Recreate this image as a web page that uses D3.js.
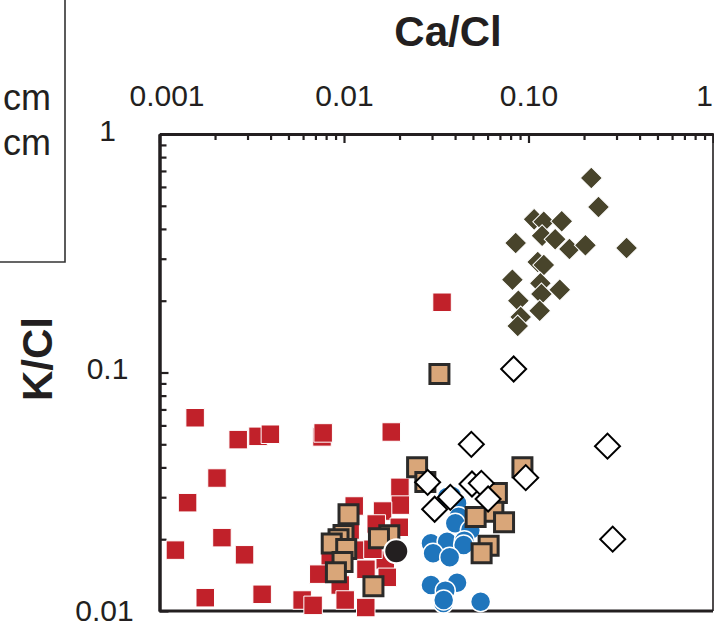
<!DOCTYPE html>
<html><head><meta charset="utf-8">
<script src="https://cdn.jsdelivr.net/npm/d3@7"></script>
<style>
body{margin:0;background:#fff}
svg{display:block}
text{font-family:"Liberation Sans",Arial,Helvetica,sans-serif;fill:#231f20}
</style>
</head><body>
<svg id="chart" width="714" height="628"></svg>
<script>
// ---- data (Ca/Cl, K/Cl) ----
const xTickValues = [0.001, 0.01, 0.1, 1];
const xTickLabels = ["0.001", "0.01", "0.10", "1"];
const yTickValues = [0.01, 0.1, 1];
const yTickLabels = ["0.01", "0.1", "1"];
const legendTexts = ["cm", "cm"];

const redSquares = [
  [0.00156,0.0646],[0.00267,0.0523],[0.00342,0.0540],[0.00399,0.0551],
  [0.0076,0.0537],[0.00771,0.0558],[0.00205,0.0361],[0.00142,0.02845],
  [0.00218,0.0203],[0.00122,0.0180],[0.00289,0.0172],[0.00177,0.01137],
  [0.0036,0.01175],[0.01804,0.0563],[0.034,0.197],
  [0.0201,0.033],[0.0202,0.0278],[0.01136,0.02756],[0.01618,0.02625],
  [0.01495,0.02316],[0.01993,0.02244],[0.0108,0.02186],[0.01224,0.018],
  [0.00842,0.01636],[0.01673,0.01636],[0.01435,0.01815],
  [0.0073,0.01427],[0.01315,0.01496],[0.01716,0.01384],[0.00954,0.01285],
  [0.00593,0.01112],[0.0068,0.01056],[0.01015,0.01112],[0.01312,0.01034]
];
const blueCircles = [
  [0.0385,0.03036],[0.0362,0.03006],[0.041,0.02829],[0.0418,0.02485],
  [0.0401,0.02331],[0.0484,0.02186],[0.0296,0.01922],[0.0362,0.01953],
  [0.0449,0.01972],[0.0445,0.01891],[0.0304,0.01746],[0.0374,0.0168],
  [0.0296,0.01285],[0.041,0.01314],[0.0354,0.01217],[0.0346,0.0108],
  [0.0347,0.01112],[0.055,0.01094]
];
const tanSquares = [
  [0.0249,0.04004],[0.0276,0.03475],[0.01058,0.02543],[0.0176,0.02077],
  [0.01547,0.02018],[0.00994,0.02083],[0.00934,0.0200],[0.00858,0.01919],
  [0.01028,0.0182],[0.00982,0.01605],[0.00904,0.01454],[0.01444,0.0127],
  [0.0329,0.0986],[0.0927,0.04004],[0.0674,0.03125],[0.0645,0.02608],
  [0.0517,0.02478],[0.0737,0.02354],[0.0608,0.01878],[0.0557,0.01746]
];
const blackCircles = [[0.0192,0.0178]];
const whiteDiamonds = [
  [0.049,0.050],[0.0284,0.03464],[0.031,0.0267],[0.0377,0.02997],
  [0.0494,0.03407],[0.0555,0.0343],[0.0604,0.02949],[0.0966,0.03622],
  [0.0831,0.1034],[0.268,0.0491],[0.286,0.0200]
];
const oliveDiamonds = [
  [0.219,0.654],[0.2395,0.494],[0.34,0.3327],[0.0852,0.349],
  [0.1073,0.4387],[0.121,0.4287],[0.1514,0.4305],[0.1185,0.3747],
  [0.1395,0.3619],[0.1667,0.3295],[0.2035,0.3415],[0.1122,0.2905],
  [0.121,0.2823],[0.0818,0.245],[0.116,0.2366],[0.1477,0.2224],
  [0.1175,0.2134],[0.0881,0.200],[0.115,0.1816],[0.0907,0.1709],
  [0.0874,0.1567]
];

// ---- layout ----
const svg = d3.select("#chart");
const L = 159.5, R = 713, T = 134, B = 611;
const x = d3.scaleLog().domain([0.001, 1]).range([L, R]);
const y = d3.scaleLog().domain([0.01, 1]).range([B, T]);

const minorX = [];
for (let e = -3; e < 0; e++) for (let m = 2; m <= 9; m++) minorX.push(m * Math.pow(10, e));
const minorY = [];
for (let e = -2; e < 0; e++) for (let m = 2; m <= 9; m++) minorY.push(m * Math.pow(10, e));

// legend fragment (cut off)
svg.append("path").attr("d", "M65,0V262H0").attr("fill", "none")
  .attr("stroke", "#333").attr("stroke-width", 1.6);
svg.selectAll("text.leg").data(legendTexts).join("text").attr("class", "leg")
  .attr("x", 51).attr("y", (d, i) => 110 + i * 45)
  .attr("text-anchor", "end").style("font-size", "36px").text(d => d);

// frame
svg.append("line").attr("x1", R).attr("x2", R).attr("y1", T).attr("y2", B)
  .attr("stroke", "#231f20").attr("stroke-width", 1.6);
svg.append("line").attr("x1", L).attr("x2", R).attr("y1", B).attr("y2", B)
  .attr("stroke", "#231f20").attr("stroke-width", 3);

// top axis
svg.append("g").attr("transform", `translate(0,${T})`)
  .call(d3.axisTop(x).tickValues(minorX).tickSizeInner(-6).tickSizeOuter(0).tickFormat(""));
const gTop = svg.append("g").attr("transform", `translate(0,${T})`)
  .call(d3.axisTop(x).tickValues(xTickValues).tickSizeInner(-9).tickSizeOuter(0)
    .tickPadding(28).tickFormat((d, i) => xTickLabels[i]));
gTop.selectAll("text").style("font-size", "30px").attr("fill", "#231f20")
  .attr("dx", (d, i) => i === 0 ? 7 : (i === xTickLabels.length - 1 ? -9 : 0));

// left axis
svg.append("g").attr("transform", `translate(${L},0)`)
  .call(d3.axisLeft(y).tickValues(minorY).tickSizeInner(-7).tickSizeOuter(0).tickFormat(""));
const gLeft = svg.append("g").attr("transform", `translate(${L},0)`)
  .call(d3.axisLeft(y).tickValues(yTickValues).tickSizeInner(-9).tickSizeOuter(0)
    .tickPadding(52).tickFormat((d, i) => yTickLabels[i]));
gLeft.selectAll("text").style("font-size", "30px").attr("fill", "#231f20")
  .attr("text-anchor", "middle").attr("dy", (d, i) => i === 0 ? "0.3em" : "0.2em")
  .attr("dx", (d, i) => i === 0 ? -3 : 0);

svg.selectAll(".domain").attr("stroke", "#231f20").attr("stroke-width", 3);
svg.selectAll(".tick line").attr("stroke", "#231f20").attr("stroke-width", 2.2);

// axis titles
svg.append("text").attr("x", 448).attr("y", 46).attr("text-anchor", "middle")
  .style("font-size", "42px").style("font-weight", "bold").text("Ca/Cl");
svg.append("text").attr("transform", "translate(52,359) rotate(-90)").attr("text-anchor", "middle")
  .style("font-size", "42px").style("font-weight", "bold").text("K/Cl");

// ---- marks ----
const sq = s => d3.symbol().type(d3.symbolSquare).size(s * s)();
const dia = h => d3.symbol().type(d3.symbolSquare).size(2 * h * h)();

svg.append("g").selectAll("path").data(redSquares).join("path")
  .attr("d", sq(18.5)).attr("transform", d => `translate(${x(d[0])},${y(d[1])})`)
  .attr("fill", "#c1212a").attr("stroke", "#fff").attr("stroke-width", 1);

svg.append("g").selectAll("circle").data(blueCircles).join("circle")
  .attr("cx", d => x(d[0])).attr("cy", d => y(d[1])).attr("r", 10)
  .attr("fill", "#1f75bc").attr("stroke", "#fff").attr("stroke-width", 1.5);

svg.append("g").selectAll("path").data(tanSquares).join("path")
  .attr("d", sq(19)).attr("transform", d => `translate(${x(d[0])},${y(d[1])})`)
  .attr("fill", "#d9a679").attr("stroke", "#2b2a29").attr("stroke-width", 3);

svg.append("g").selectAll("circle").data(blackCircles).join("circle")
  .attr("cx", d => x(d[0])).attr("cy", d => y(d[1])).attr("r", 12)
  .attr("fill", "#231f20").attr("stroke", "#fff").attr("stroke-width", 2);

svg.append("g").selectAll("path").data(whiteDiamonds).join("path")
  .attr("d", dia(12.5)).attr("transform", d => `translate(${x(d[0])},${y(d[1])}) rotate(45)`)
  .attr("fill", "#fff").attr("stroke", "#000").attr("stroke-width", 2);

svg.append("g").selectAll("path").data(oliveDiamonds).join("path")
  .attr("d", dia(11)).attr("transform", d => `translate(${x(d[0])},${y(d[1])}) rotate(45)`)
  .attr("fill", "#48442b").attr("stroke", "#fff").attr("stroke-width", 1);
</script>
</body></html>
